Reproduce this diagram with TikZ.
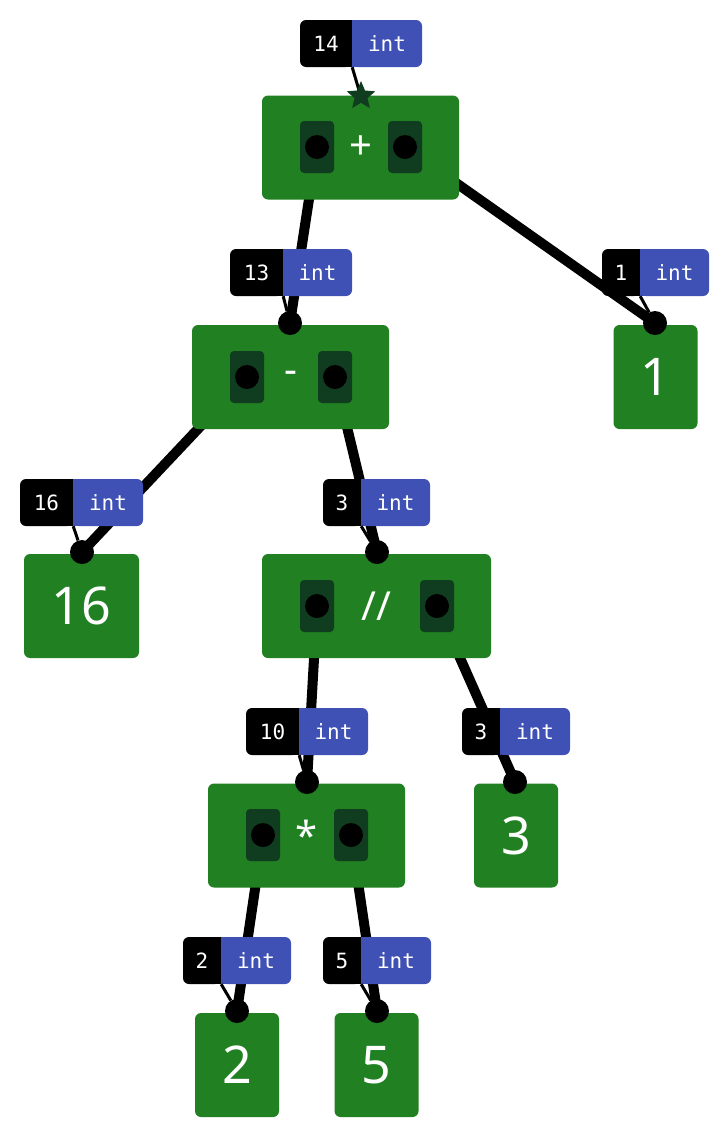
\documentclass[tikz,border=0pt]{standalone}
\usepackage{fontspec}
\setmainfont{Noto Sans}
\setmonofont{DejaVu Sans Mono}
\usetikzlibrary{shapes.geometric}
\definecolor{gg}{RGB}{33, 128, 33}
\definecolor{dg}{RGB}{16, 61, 31}
\definecolor{bb}{RGB}{64, 81, 181}

\tikzset{
  op/.style={rectangle, rounded corners=6pt, fill=gg, minimum height=104pt, inner sep=0pt, text=white, font=\fontsize{40}{40}\selectfont},
  leaf/.style={op, minimum width=84pt, font=\fontsize{52}{52}\selectfont},
  sock/.style={rectangle, rounded corners=4pt, fill=dg, minimum width=34pt, minimum height=52pt},
  dot/.style={circle, fill=black, minimum size=24pt, inner sep=0pt},
  edge/.style={line width=10pt, color=black},
  tval/.style={rectangle, rounded corners=6pt, fill=black, text=white, minimum height=47pt, inner sep=0pt, font=\ttfamily\fontsize{21}{21}\selectfont},
  ttyp/.style={tval, fill=bb},
  ttext/.style={text=white, font=\ttfamily\fontsize{21}{21}\selectfont},
}

\begin{document}
\begin{tikzpicture}[x=1pt,y=1pt]
\useasboundingbox (0,0) rectangle (728,-1138);
% edges first, under the boxes
\coordinate (s1) at (317,-147);
\coordinate (s2) at (405,-147);
\coordinate (s3) at (247,-377);
\coordinate (s4) at (335,-377);
\coordinate (s5) at (317,-606);
\coordinate (s6) at (437,-606);
\coordinate (s7) at (263,-835);
\coordinate (s8) at (351,-835);
\coordinate (cmin) at (290,-323);
\coordinate (cone) at (655,-323);
\coordinate (csix) at (82,-552);
\coordinate (cdiv) at (377,-552);
\coordinate (cmul) at (307,-782);
\coordinate (cthr) at (515,-782);
\coordinate (ctwo) at (237,-1011);
\coordinate (cfiv) at (377,-1011);
\draw [edge] (s1) -- (cmin);
\draw [edge] (s2) -- (cone);
\draw [edge] (s3) -- (csix);
\draw [edge] (s4) -- (cdiv);
\draw [edge] (s5) -- (cmul);
\draw [edge] (s6) -- (cthr);
\draw [edge] (s7) -- (ctwo);
\draw [edge] (s8) -- (cfiv);
% boxes
\node (plus) [op, minimum width=197pt] at (360.5,-147.5) {+};
\node (minus) [op, minimum width=197pt] at (290.5,-377) {-};
\node (div) [op, minimum width=229pt] at (376.5,-606) {//};
\node (mul) [op, minimum width=197pt] at (306.5,-835.5) {*};
\node (one) [leaf] at (655.5,-377) {1};
\node (six) [leaf, minimum width=115pt] at (81.5,-606) {16};
\node (thr) [leaf] at (516,-835.5) {3};
\node (two) [leaf] at (237,-1065) {2};
\node (fiv) [leaf] at (376.5,-1065) {5};
% sockets
\foreach \s in {1,...,8}
  \node (k\s) [sock] at (s\s) {};
\foreach \s in {1,...,8}
  \node (d\s) [dot] at (s\s) {};
\foreach \c in {cmin,cone,csix,cdiv,cmul,cthr,ctwo,cfiv}
  \node (n\c) [dot] at (\c) {};
% type tags
\node (v14) [tval, minimum width=52pt] at (326,-43.5) {};
\node (t14) [ttyp, minimum width=70pt] at (387,-43.5) {};
\node (v13) [tval, minimum width=53pt] at (256.5,-272.5) {};
\node (t13) [ttyp, minimum width=69pt] at (317.5,-272.5) {};
\node (v1) [tval, minimum width=38pt] at (621,-272.5) {};
\node (t1) [ttyp, minimum width=69pt] at (674.5,-272.5) {};
\node (v16) [tval, minimum width=53pt] at (46.5,-502.5) {};
\node (t16) [ttyp, minimum width=70pt] at (108,-502.5) {};
\node (v3a) [tval, minimum width=38pt] at (342,-502.5) {};
\node (t3a) [ttyp, minimum width=69pt] at (395.5,-502.5) {};
\node (v10) [tval, minimum width=53pt] at (272.5,-731.5) {};
\node (t10) [ttyp, minimum width=69pt] at (333.5,-731.5) {};
\node (v3b) [tval, minimum width=38pt] at (481,-731.5) {};
\node (t3b) [ttyp, minimum width=70pt] at (535,-731.5) {};
\node (v2) [tval, minimum width=38pt] at (202,-960.5) {};
\node (t2) [ttyp, minimum width=70pt] at (256,-960.5) {};
\node (v5) [tval, minimum width=38pt] at (342,-960.5) {};
\node (t5) [ttyp, minimum width=70pt] at (396,-960.5) {};
% square inner corners, text and pointers
\foreach \v/\t/\c/\s in {v14/t14/plus.north/14, v13/t13/ncmin/13, v1/t1/ncone/1, v16/t16/ncsix/16, v3a/t3a/ncdiv/3, v10/t10/ncmul/10, v3b/t3b/ncthr/3, v2/t2/nctwo/2, v5/t5/ncfiv/5} {
  \fill [black] (\v.north) rectangle (\v.south east);
  \fill [bb] (\t.north west) rectangle (\t.south);
  \draw [line width=3pt] (\v.south east) -- (\c);
  \node at (\v) [ttext] {\s};
  \node at (\t) [ttext] {int};
}
\node (root) [star, star points=5, star point ratio=2.2, fill=dg, minimum size=30pt, inner sep=0pt] at (361,-96) {};
\end{tikzpicture}
\end{document}
